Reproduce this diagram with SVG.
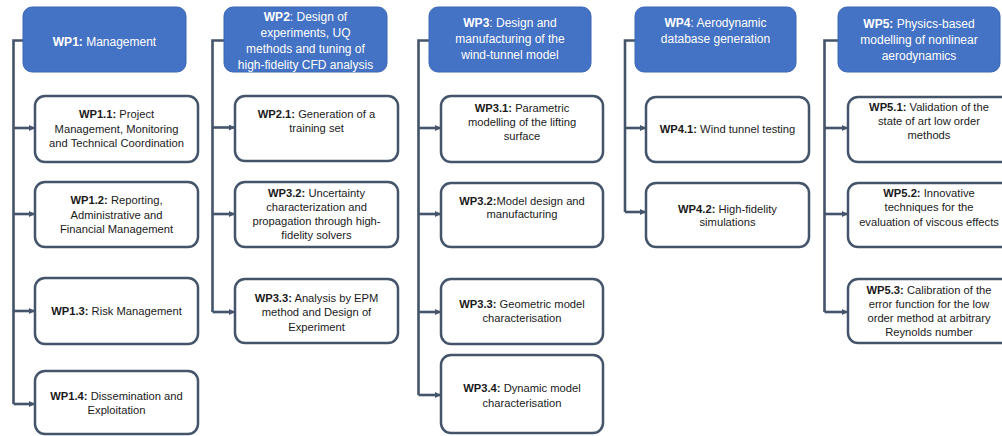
<svg xmlns="http://www.w3.org/2000/svg" width="1002" height="436" viewBox="0 0 1002 436">
<style>
.hd{fill:#4472C4;stroke:#3B66B5;stroke-width:1}
.bx{fill:#FFFFFF;stroke:#44546A;stroke-width:2.5}
.ln{fill:none;stroke:#44546A;stroke-width:2.6}
.ht{font-family:"Liberation Sans",Arial,sans-serif;font-size:12px;fill:#FFFFFF;text-anchor:middle}
.ct{font-family:"Liberation Sans",Arial,sans-serif;font-size:11.2px;fill:#1A1A1A;text-anchor:middle}
.b{font-weight:bold}
</style>
<defs>
<marker id="ar" viewBox="0 0 6 6" refX="6" refY="3" markerWidth="6" markerHeight="6" markerUnits="userSpaceOnUse" orient="auto">
<path d="M0,0 L6,3 L0,6 z" fill="#44546A"/>
</marker>
</defs>
<rect width="1002" height="436" fill="#FFFFFF"/>
<g id="connectors">
<path class="ln" d="M23,40.5 H13.5 V404"/>
<path class="ln" d="M13.5,128 H35" marker-end="url(#ar)"/>
<path class="ln" d="M13.5,214 H35" marker-end="url(#ar)"/>
<path class="ln" d="M13.5,311 H35" marker-end="url(#ar)"/>
<path class="ln" d="M13.5,404 H35" marker-end="url(#ar)"/>
<path class="ln" d="M224,40.5 H212.5 V312"/>
<path class="ln" d="M212.5,127.5 H235" marker-end="url(#ar)"/>
<path class="ln" d="M212.5,214 H235" marker-end="url(#ar)"/>
<path class="ln" d="M212.5,312 H235" marker-end="url(#ar)"/>
<path class="ln" d="M429,40.5 H418.5 V395"/>
<path class="ln" d="M418.5,128 H441" marker-end="url(#ar)"/>
<path class="ln" d="M418.5,214 H441" marker-end="url(#ar)"/>
<path class="ln" d="M418.5,312 H441" marker-end="url(#ar)"/>
<path class="ln" d="M418.5,395 H441" marker-end="url(#ar)"/>
<path class="ln" d="M635,40.5 H625 V212"/>
<path class="ln" d="M625,128 H646" marker-end="url(#ar)"/>
<path class="ln" d="M625,212 H646" marker-end="url(#ar)"/>
<path class="ln" d="M838,40.5 H824.5 V312"/>
<path class="ln" d="M824.5,128 H848" marker-end="url(#ar)"/>
<path class="ln" d="M824.5,214 H848" marker-end="url(#ar)"/>
<path class="ln" d="M824.5,312 H848" marker-end="url(#ar)"/>
</g>
<g id="wp1">
<rect class="hd" x="23" y="7" width="163" height="65" rx="9"/>
<text class="ht" x="104.5" y="45.5"><tspan class="b">WP1:</tspan> Management</text>
</g>
<g id="wp1-1">
<rect class="bx" x="35" y="96" width="163" height="66" rx="10"/>
<text class="ct" x="116.5" y="118"><tspan class="b">WP1.1:</tspan> Project</text>
<text class="ct" x="116.5" y="132.5">Management, Monitoring</text>
<text class="ct" x="116.5" y="147">and Technical Coordination</text>
</g>
<g id="wp1-2">
<rect class="bx" x="35" y="182" width="163" height="65" rx="10"/>
<text class="ct" x="116.5" y="204"><tspan class="b">WP1.2:</tspan> Reporting,</text>
<text class="ct" x="116.5" y="218.5">Administrative and</text>
<text class="ct" x="116.5" y="233">Financial Management</text>
</g>
<g id="wp1-3">
<rect class="bx" x="35" y="278" width="163" height="66" rx="10"/>
<text class="ct" x="116.5" y="315"><tspan class="b">WP1.3:</tspan> Risk Management</text>
</g>
<g id="wp1-4">
<rect class="bx" x="35" y="371" width="163" height="63" rx="10"/>
<text class="ct" x="116.5" y="400"><tspan class="b">WP1.4:</tspan> Dissemination and</text>
<text class="ct" x="116.5" y="414">Exploitation</text>
</g>
<g id="wp2">
<rect class="hd" x="224" y="7" width="163" height="65" rx="9"/>
<text class="ht" x="305.5" y="20.5"><tspan class="b">WP2</tspan>: Design of</text>
<text class="ht" x="305.5" y="36.5">experiments, UQ</text>
<text class="ht" x="305.5" y="52.5">methods and tuning of</text>
<text class="ht" x="305.5" y="68.5">high-fidelity CFD analysis</text>
</g>
<g id="wp2-1">
<rect class="bx" x="235" y="96" width="163" height="65" rx="10"/>
<text class="ct" x="316.5" y="118"><tspan class="b">WP2.1:</tspan> Generation of a</text>
<text class="ct" x="316.5" y="132">training set</text>
</g>
<g id="wp2-2">
<rect class="bx" x="235" y="182" width="163" height="65" rx="10"/>
<text class="ct" x="316.5" y="197"><tspan class="b">WP3.2:</tspan> Uncertainty</text>
<text class="ct" x="316.5" y="211">characterization and</text>
<text class="ct" x="316.5" y="225">propagation through high-</text>
<text class="ct" x="316.5" y="239">fidelity solvers</text>
</g>
<g id="wp2-3">
<rect class="bx" x="235" y="279" width="163" height="64" rx="10"/>
<text class="ct" x="316.5" y="302"><tspan class="b">WP3.3:</tspan> Analysis by EPM</text>
<text class="ct" x="316.5" y="316">method and Design of</text>
<text class="ct" x="316.5" y="331">Experiment</text>
</g>
<g id="wp3">
<rect class="hd" x="429" y="7" width="162" height="65" rx="9"/>
<text class="ht" x="510" y="27"><tspan class="b">WP3</tspan>: Design and</text>
<text class="ht" x="510" y="43">manufacturing of the</text>
<text class="ht" x="510" y="59">wind-tunnel model</text>
</g>
<g id="wp3-1">
<rect class="bx" x="441" y="96" width="162" height="66" rx="10"/>
<text class="ct" x="522" y="112"><tspan class="b">WP3.1:</tspan> Parametric</text>
<text class="ct" x="522" y="126">modelling of the lifting</text>
<text class="ct" x="522" y="140">surface</text>
</g>
<g id="wp3-2">
<rect class="bx" x="441" y="183" width="162" height="64" rx="10"/>
<text class="ct" x="522" y="205"><tspan class="b">WP3.2:</tspan>Model design and</text>
<text class="ct" x="522" y="218">manufacturing</text>
</g>
<g id="wp3-3">
<rect class="bx" x="441" y="279" width="162" height="65" rx="10"/>
<text class="ct" x="522" y="308"><tspan class="b">WP3.3:</tspan> Geometric model</text>
<text class="ct" x="522" y="322">characterisation</text>
</g>
<g id="wp3-4">
<rect class="bx" x="441" y="355" width="162" height="78" rx="10"/>
<text class="ct" x="522" y="392"><tspan class="b">WP3.4:</tspan> Dynamic model</text>
<text class="ct" x="522" y="407">characterisation</text>
</g>
<g id="wp4">
<rect class="hd" x="635" y="7" width="161" height="65" rx="9"/>
<text class="ht" x="715.5" y="27"><tspan class="b">WP4</tspan>: Aerodynamic</text>
<text class="ht" x="715.5" y="43">database generation</text>
</g>
<g id="wp4-1">
<rect class="bx" x="646" y="97" width="163" height="65" rx="10"/>
<text class="ct" x="727.5" y="133"><tspan class="b">WP4.1:</tspan> Wind tunnel testing</text>
</g>
<g id="wp4-2">
<rect class="bx" x="646" y="183" width="163" height="64" rx="10"/>
<text class="ct" x="727.5" y="213"><tspan class="b">WP4.2:</tspan> High-fidelity</text>
<text class="ct" x="727.5" y="226">simulations</text>
</g>
<g id="wp5">
<rect class="hd" x="838" y="7" width="162" height="65" rx="9"/>
<text class="ht" x="919" y="28"><tspan class="b">WP5:</tspan> Physics-based</text>
<text class="ht" x="919" y="44">modelling of nonlinear</text>
<text class="ht" x="919" y="60">aerodynamics</text>
</g>
<g id="wp5-1">
<rect class="bx" x="848" y="97" width="163" height="65" rx="10"/>
<text class="ct" x="929" y="111"><tspan class="b">WP5.1:</tspan> Validation of the</text>
<text class="ct" x="929" y="125">state of art  low order</text>
<text class="ct" x="929" y="139">methods</text>
</g>
<g id="wp5-2">
<rect class="bx" x="848" y="183" width="163" height="64" rx="10"/>
<text class="ct" x="929" y="197"><tspan class="b">WP5.2:</tspan> Innovative</text>
<text class="ct" x="929" y="211">techniques for the</text>
<text class="ct" x="929" y="226">evaluation of viscous effects</text>
</g>
<g id="wp5-3">
<rect class="bx" x="848" y="279" width="163" height="64" rx="10"/>
<text class="ct" x="929" y="294"><tspan class="b">WP5.3:</tspan> Calibration of the</text>
<text class="ct" x="929" y="308">error function for the low</text>
<text class="ct" x="929" y="322">order method at arbitrary</text>
<text class="ct" x="929" y="336">Reynolds number</text>
</g>
</svg>
